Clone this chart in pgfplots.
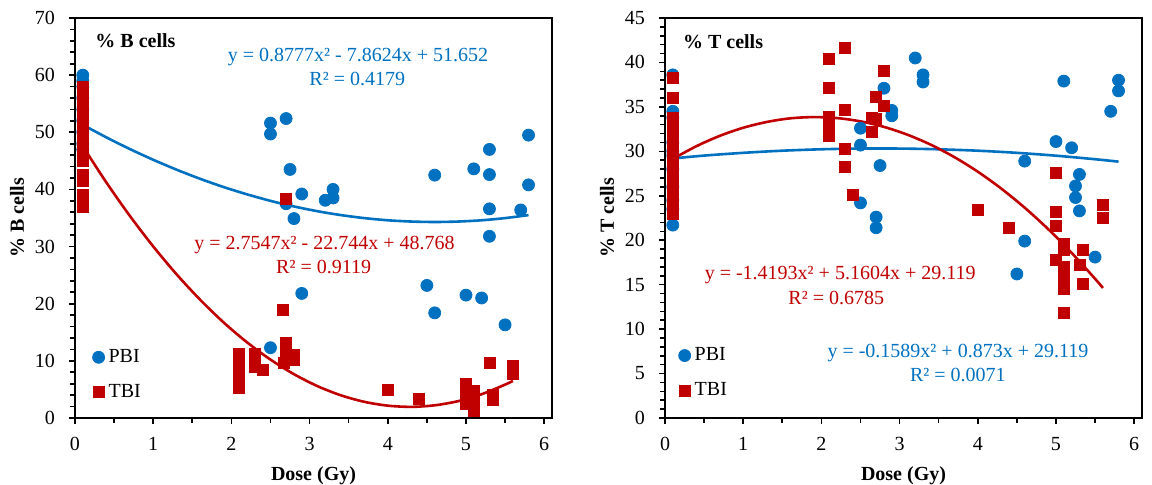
\documentclass[border=0pt]{standalone}
\usepackage{fontspec}
\setmainfont{Liberation Serif}
\usepackage{pgfplots}
\pgfplotsset{compat=1.18}
\definecolor{pbi}{HTML}{0070C0}
\definecolor{tbi}{HTML}{C00000}
\newcommand\fs{\fontsize{10}{12}\selectfont}
\pgfplotsset{
  myax/.style={
    scale only axis, width=238.5pt, height=200pt,
    xmin=0, xmax=6.1, xtick={0,...,6}, minor x tick num=1,
    tick pos=left, tick align=outside,
    major tick length=3pt, minor tick length=2.5pt,
    every tick/.style={black, line width=0.8pt},
    axis line style={line width=0.8pt},
    tick label style={font=\fs},
    xticklabel style={yshift=-3pt},
    yticklabel style={xshift=-3.5pt},
    /pgf/number format/assume math mode=true,
    xlabel={Dose (Gy)},
    xlabel style={font=\fs\bfseries, at={(axis description cs:0.5,0)}, anchor=center, yshift=-29pt},
    ylabel style={font=\fs\bfseries, at={(axis description cs:-0.1216,0.5)}, anchor=center},
    legend style={draw=none, fill=none, font=\fs, row sep=5.5pt, inner sep=0pt},
    legend cell align=left,
    legend image code/.code={\draw[mark repeat=2,mark phase=2,#1] plot coordinates {(0pt,0pt) (2.5pt,0pt) (5pt,0pt)};},
    clip=false,
  },
  pbis/.style={only marks, mark=*, mark size=3pt, color=pbi, mark options={draw=pbi, fill=pbi}},
  tbis/.style={only marks, mark=square*, mark size=2.75pt, color=tbi, mark options={draw=tbi, fill=tbi}},
  trend/.style={no markers, smooth, line width=1.3pt},
}
\begin{document}
\begin{tikzpicture}
\path[use as bounding box] (-37.5pt,-33.5pt) rectangle (538.5pt,209pt);
% ---------- left: B cells
\begin{axis}[myax, at={(0pt,0pt)}, anchor=south west,
  ymin=0, ymax=70, ytick={0,10,...,70}, minor y tick num=4,
  ylabel={\% B cells},
  legend style={at={(axis cs:0.22,7.55)}, anchor=west}]
\addplot[pbis] coordinates {
(0.1,60) (0.1,59) (0.1,58) (0.1,56) (0.1,54) (0.1,52) (0.1,50) (0.1,48) (0.1,47)
(2.5,12.3) (2.5,51.6) (2.5,49.7) (2.7,52.4) (2.75,43.5) (2.7,37.5) (2.8,34.9) (2.9,39.2) (2.9,21.8) (3.2,38.1) (3.3,40.0) (3.3,38.5)
(4.5,23.2) (4.6,42.5) (4.6,18.4) (5.0,21.5) (5.1,43.6) (5.2,21.0) (5.3,42.6) (5.3,47.0) (5.3,36.6) (5.3,31.8) (5.5,16.3) (5.7,36.4) (5.8,49.5) (5.8,40.8)
};
\addlegendentry{PBI}
\addplot[tbis] coordinates {
(0.1,58) (0.1,57) (0.1,56) (0.1,55) (0.1,54) (0.1,53) (0.1,52) (0.1,51) (0.1,50) (0.1,49) (0.1,48) (0.1,47) (0.1,46) (0.1,45) (0.1,42.5) (0.1,41.5) (0.1,39) (0.1,37)
(2.1,11.3) (2.1,10.3) (2.1,9.3) (2.1,8.3) (2.1,6.2) (2.1,5.3)
(2.3,11.3) (2.3,10) (2.3,9) (2.4,8.5)
(2.66,18.9) (2.7,13.1) (2.7,11.5) (2.67,9.6) (2.8,10.2) (2.8,11) (2.7,38.4)
(4.0,5.0) (4.4,3.3)
(5.0,6.0) (5.0,5.0) (5.0,4.0) (5.0,3.0) (5.0,2.4)
(5.1,4.8) (5.1,3.8) (5.1,2.8) (5.1,1.8) (5.1,1.2)
(5.3,9.6) (5.35,4.0) (5.35,3.2) (5.6,9.1) (5.6,7.8)
};
\addlegendentry{TBI}
\addplot[trend, pbi] coordinates {(0.1,51.31) (0.4,49.12) (0.7,47.08) (1.0,45.19) (1.3,43.45) (1.6,41.86) (1.9,40.42) (2.2,39.14) (2.5,38.00) (2.8,37.02) (3.1,36.19) (3.4,35.51) (3.7,34.98) (4.0,34.60) (4.3,34.38) (4.6,34.30) (4.9,34.38) (5.2,34.60) (5.5,34.98) (5.8,35.51)};
\addplot[trend, tbi] coordinates {(0.1,47.55) (0.4,41.24) (0.7,35.40) (1.0,30.03) (1.3,25.13) (1.6,20.70) (1.9,16.73) (2.2,13.24) (2.5,10.22) (2.8,7.67) (3.1,5.58) (3.4,3.97) (3.7,2.83) (4.0,2.16) (4.3,1.95) (4.6,2.22) (4.9,2.95) (5.2,4.16) (5.5,5.84) (5.6,6.50)};
\node[font=\fs\bfseries, anchor=west, inner sep=0pt] at (axis cs:0.256,66) {\% B cells};
\node[font=\fs, text=pbi] at (axis cs:3.62,63.2) {y = 0.8777x² - 7.8624x + 51.652};
\node[font=\fs, text=pbi] at (axis cs:3.61,59.3) {R² = 0.4179};
\node[font=\fs, text=tbi] at (axis cs:3.19,30.35) {y = 2.7547x² - 22.744x + 48.768};
\node[font=\fs, text=tbi] at (axis cs:3.18,26.35) {R² = 0.9119};
\end{axis}
% ---------- right: T cells
\begin{axis}[myax, at={(295pt,0pt)}, anchor=south west,
  ymin=0, ymax=45, ytick={0,5,...,45}, minor y tick num=4,
  ylabel={\% T cells},
  legend style={at={(axis cs:0.17,5.05)}, anchor=west}]
\addplot[pbis] coordinates {
(0.1,38.6) (0.1,34.5) (0.1,33.8) (0.1,31) (0.1,30) (0.1,29.5) (0.1,28) (0.1,26) (0.1,24.5) (0.1,23.5) (0.1,21.7)
(3.2,40.5) (3.3,38.6) (3.3,37.8) (2.8,37.1) (2.9,34.6) (2.9,34.0) (2.5,32.6) (2.5,30.7) (2.75,28.4) (2.5,24.2) (2.7,22.6) (2.7,21.4)
(5.1,37.9) (5.8,38.0) (5.8,36.8) (5.7,34.5) (5.0,31.1) (5.2,30.4) (4.6,28.9) (5.3,27.4) (5.25,26.1) (5.25,24.8) (5.3,23.3) (4.6,19.9) (5.5,18.1) (4.5,16.2)
};
\addlegendentry{PBI}
\addplot[tbis] coordinates {
(0.1,38.3) (0.1,36.0) (0.1,33.8) (0.1,32.5) (0.1,31.5) (0.1,30.5) (0.1,29.5) (0.1,28.5) (0.1,27.5) (0.1,26.5) (0.1,25.5) (0.1,24.5) (0.1,23.5) (0.1,23.0)
(2.1,40.4) (2.1,37.1) (2.1,33.9) (2.1,32.9) (2.1,31.7) (2.3,41.6) (2.3,34.7) (2.3,30.3) (2.3,28.3) (2.4,25.1)
(2.8,39.0) (2.7,36.1) (2.8,35.1) (2.65,33.8) (2.7,33.6) (2.65,32.2)
(5.0,27.6) (4.0,23.4) (5.0,23.2) (5.0,21.6) (4.4,21.4) (5.0,17.8)
(5.1,19.6) (5.1,18.9) (5.1,17.0) (5.1,16.0) (5.1,15.2) (5.1,14.5) (5.1,11.8)
(5.35,18.9) (5.3,17.2) (5.35,15.1) (5.6,24.0) (5.6,22.5)
};
\addlegendentry{TBI}
\addplot[trend, pbi] coordinates {(0.1,29.20) (0.5,29.52) (1.0,29.83) (1.5,30.07) (2.0,30.23) (2.5,30.31) (3.0,30.31) (3.5,30.23) (4.0,30.07) (4.5,29.83) (5.0,29.51) (5.5,29.11) (5.8,28.84)};
\addplot[trend, tbi] coordinates {(0.1,29.15) (0.4,30.57) (0.7,31.74) (1.0,32.65) (1.3,33.30) (1.6,33.71) (1.9,33.85) (2.2,33.74) (2.5,33.37) (2.8,32.75) (3.1,31.87) (3.4,30.74) (3.7,29.35) (4.0,27.71) (4.3,25.81) (4.6,23.66) (4.9,21.25) (5.2,18.58) (5.5,15.66) (5.6,14.63)};
\node[font=\fs\bfseries, anchor=west, inner sep=0pt] at (axis cs:0.226,42.3) {\% T cells};
\node[font=\fs, text=tbi] at (axis cs:2.24,16.04) {y = -1.4193x² + 5.1604x + 29.119};
\node[font=\fs, text=tbi] at (axis cs:2.19,13.45) {R² = 0.6785};
\node[font=\fs, text=pbi] at (axis cs:3.746,7.36) {y = -0.1589x² + 0.873x + 29.119};
\node[font=\fs, text=pbi] at (axis cs:3.746,4.88) {R² = 0.0071};
\end{axis}
\end{tikzpicture}
\end{document}
